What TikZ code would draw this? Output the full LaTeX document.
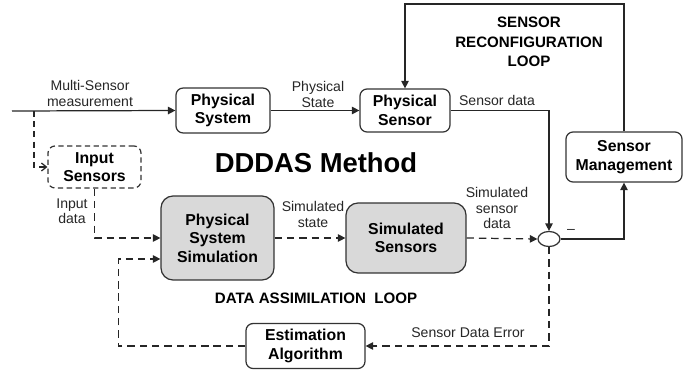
\documentclass[tikz,border=0pt]{standalone}
\usepackage{fontspec}
\setmainfont{Liberation Sans}
\usepackage{tikz}
\usetikzlibrary{arrows.meta}
\usetikzlibrary{shapes}
\usetikzlibrary{positioning}
\tikzset{%
	blk/.style={rectangle,rounded corners=0.14cm,draw=black!80,line width=0.7,fill=white,align=center,font=\fontsize{9}{10.5}\selectfont\bfseries},
	simblk/.style={blk,rounded corners=0.24cm,fill=black!15},
	dblk/.style={blk,dash pattern=on 3pt off 2pt},
	lbl/.style={align=center,inner sep=0,font=\fontsize{8}{8.8}\selectfont,text=black!85},
	ttl/.style={align=center,inner sep=0,font=\fontsize{8.6}{11}\selectfont\bfseries},
	sarr/.style={arrows={-Triangle[length=0.15cm,width=0.15cm]},line width=0.7,color=black!85},
	darr/.style={sarr,dash pattern=on 4.2pt off 2.8pt},
	barr/.style={arrows={-Straight Barb[length=0.1cm,width=0.16cm]},line width=0.7,color=black!85,dash pattern=on 3.4pt off 2.4pt},
}

\begin{document}
\begin{tikzpicture}[x=0.02cm,y=-0.02cm]
	\path[use as bounding box] (0,0) rectangle (683,372);
	% blocks
	\node (psys) at (223,110.5) [blk,minimum width=1.88cm,minimum height=0.86cm] {Physical\\System};
	\node (psen) at (405,110.5) [blk,minimum width=1.8cm,minimum height=0.86cm] {Physical\\Sensor};
	\node (smgmt) at (624,157) [blk,minimum width=2.32cm,minimum height=1.0cm] {Sensor\\Management};
	\node (insens) at (94.5,167) [dblk,minimum width=1.86cm,minimum height=0.84cm] {Input\\Sensors};
	\node (sim) at (217.5,238) [simblk,minimum width=2.26cm,minimum height=1.68cm] {Physical\\System\\Simulation};
	\node (ssens) at (406,238) [simblk,minimum width=2.4cm,minimum height=1.4cm] {Simulated\\Sensors};
	\node (est) at (305.5,346) [blk,minimum width=2.38cm,minimum height=0.88cm] {Estimation\\Algorithm};
	\node (sum) at (549,239) [ellipse,draw=black!80,line width=0.7,minimum width=0.44cm,minimum height=0.3cm,inner sep=0] {};
	\coordinate (inp) at (12,111);
	\coordinate (tap) at (34,111);
	\coordinate (toploop) at (500,4);
	
	% measurement path
	\draw[sarr] (inp) -- (psys.west);
	\draw[sarr] (psys.east) -- (psen.west);
	\draw[sarr] (psen.east) -| (sum.north);
	\draw[sarr] (sum.east) -| (smgmt.south);
	\draw[sarr] (smgmt.north) |- (toploop) -| (psen.north);
	
	% simulation path
	\draw[barr] (tap) |- (insens.west);
	\draw[darr] (insens.south) |- (sim.west);
	\draw[darr] (sim.east) -- (ssens.west);
	\draw[darr] (ssens.east) -- (sum.west);
	\draw[darr] (sum.south) |- (est.east);
	\draw[darr] (est.west) -| ([xshift=-0.84cm,yshift=-0.42cm]sim.west) -- ([yshift=-0.42cm]sim.west);
	
	% labels
	\node (lmeas) at (90,93.5) [lbl] {Multi-Sensor\\measurement};
	\node (lpst) at (318,94.5) [lbl] {Physical\\State};
	\node (lsdat) at (497,100) [lbl] {Sensor data};
	\node (lminus) at (571,231) [lbl] {--};
	\node (lssd) at (497,208) [lbl] {Simulated\\sensor\\data};
	\node (lsst) at (313,214.5) [lbl] {Simulated\\state};
	\node (linp) at (72,211.5) [lbl] {Input\\data};
	\node (lerr) at (468,333) [lbl] {Sensor Data Error};
	
	\node (ddd) at (316,163) [inner sep=0,font=\fontsize{15.6}{18}\selectfont\bfseries] {DDDAS Method};
	\node (lreconf) at (529,42) [ttl] {SENSOR\\RECONFIGURATION\\LOOP};
	\node (lassim) at (316,298) [ttl] {DATA ASSIMILATION \ LOOP};
\end{tikzpicture}
\end{document}
